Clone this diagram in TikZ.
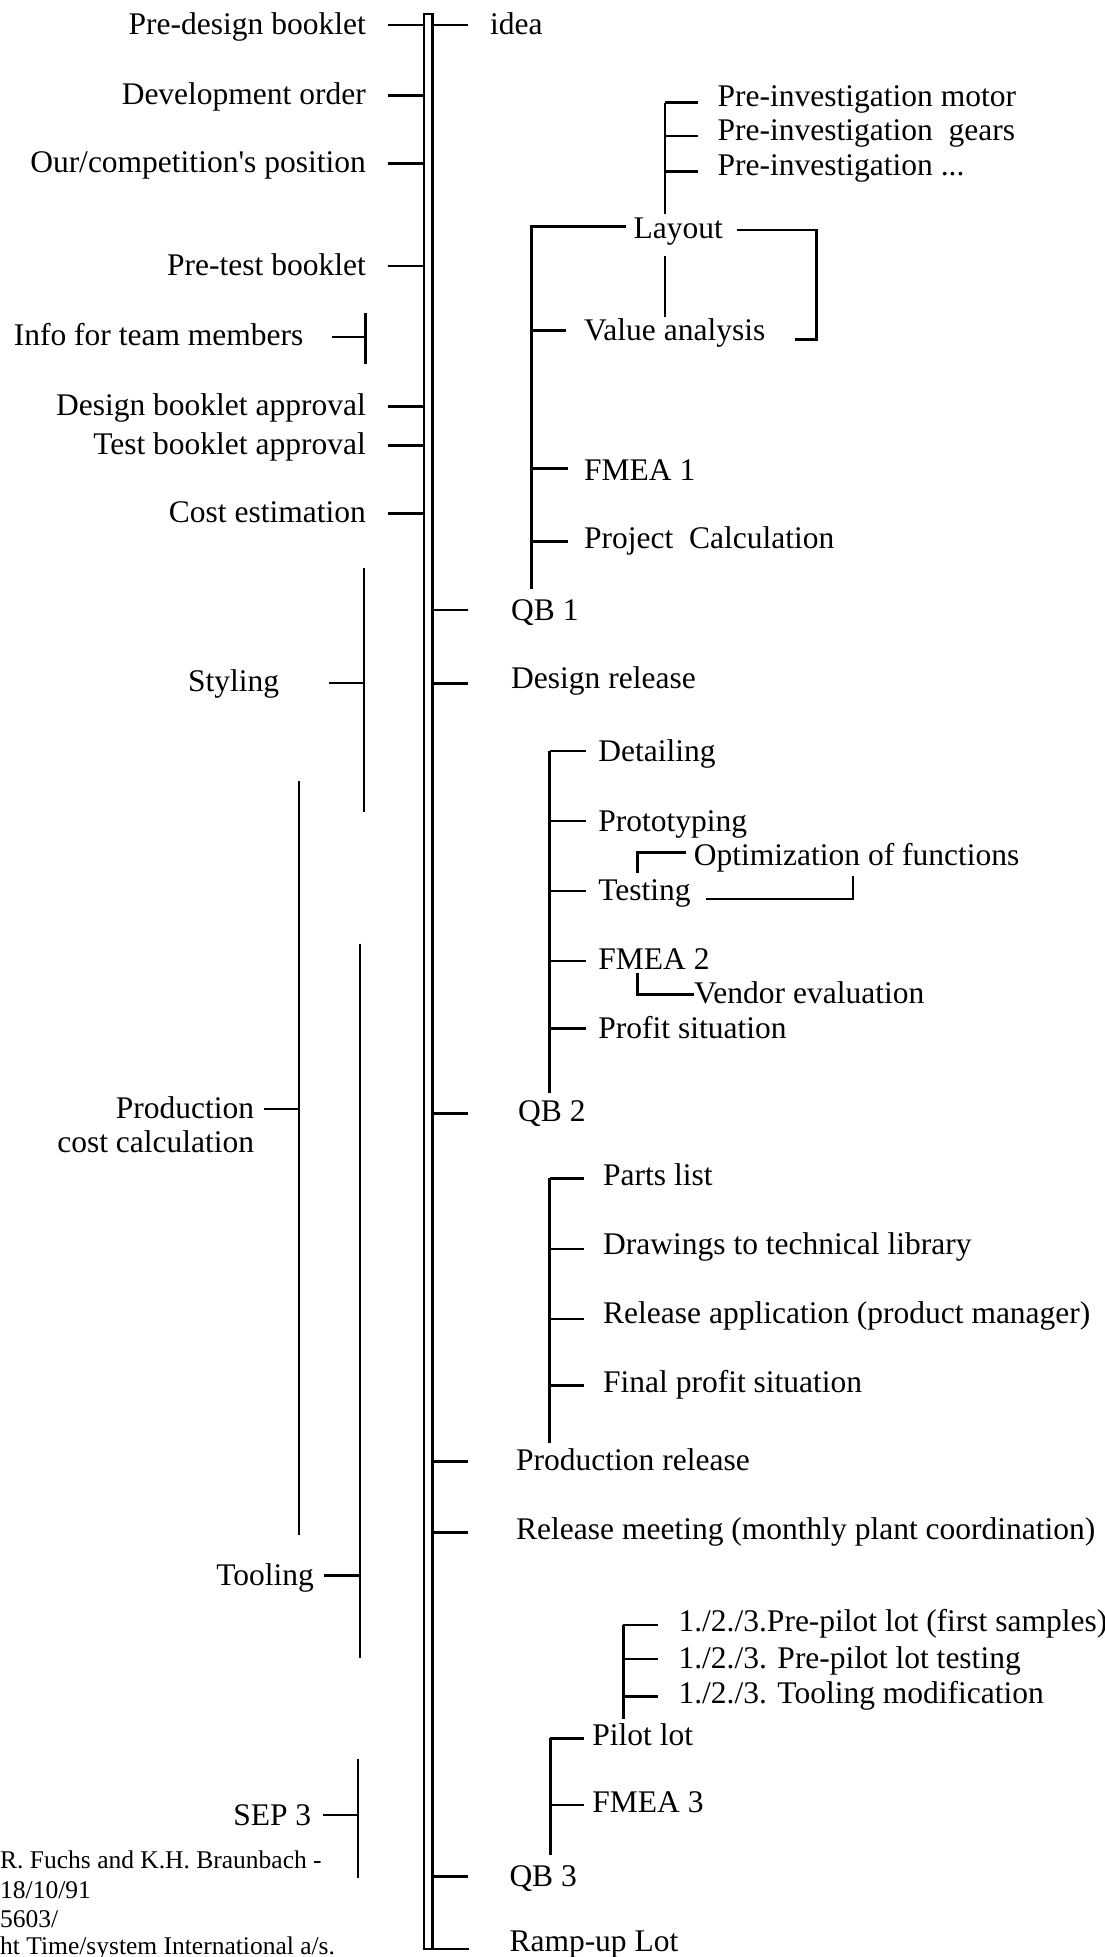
\documentclass[tikz,border=0pt]{standalone}
\usepackage{fontspec}
\setmainfont{Liberation Serif}
\newcommand\mainsize{\fontsize{31.5}{36}\selectfont}
\newcommand\notesize{\fontsize{25.5}{29}\selectfont}
\begin{document}
\begin{tikzpicture}[x=1pt,y=-1pt,line join=miter,
  txt/.style={font=\mainsize,inner sep=0pt,anchor=base west},
  txtr/.style={font=\mainsize,inner sep=0pt,anchor=base east},
  note/.style={font=\notesize,inner sep=0pt,anchor=base west},
  conn/.style={line width=2.6pt},
  longbar/.style={line width=2.2pt},
  spine/.style={line width=2.6pt}]
\useasboundingbox (0,0) rectangle (1104,1957);
\clip (0,0) rectangle (1104,1957);

% ---------- main time axis (double line) ----------
\coordinate (axL) at (424,0);
\coordinate (axR) at (432.5,0);
\draw[spine] (469.3,1949) -- (424,1949) -- (424,14) -- (432.5,14) -- (432.5,1949);

% ---------- documents on the left of the axis ----------
\node[txtr] (pdb)    at (366,34)    {Pre-design booklet};
\node[txtr] (dorder) at (366,104)   {Development order};
\node[txtr] (ourpos) at (366,172)   {Our/competition\textquotesingle s position};
\node[txtr] (ptb)    at (366,275)   {Pre-test booklet};
\node[txtr] (info)   at (303.6,345.5) {Info for team members};
\node[txtr] (dba)    at (366,415.4) {Design booklet approval};
\node[txtr] (tba)    at (366,454.4) {Test booklet approval};
\node[txtr] (cost)   at (366,522.2) {Cost estimation};

\foreach \y in {25,95.4,163.6,266,406.4,445.4,513.2}
  \draw[conn] (387.5,\y) -- (axL |- 0,\y);
\coordinate (infoT) at (332,336.8);
\draw[conn] (infoT) -- (365.4,336.8);
\draw[conn] (365.4,312.5) -- (365.4,364.3);

% ---------- left brackets: styling, costing, tooling, SEP ----------
\node[txtr] (styl) at (279.3,691) {Styling};
\draw[longbar] (363.6,567.9) -- (363.6,812);
\draw[conn] (329.3,682.9) -- (363.6,682.9);

\node[txtr] (prod1) at (254.3,1118)   {Production};
\node[txtr] (prod2) at (254.3,1152.3) {cost calculation};
\draw[longbar] (299.3,781) -- (299.3,1535);
\draw[conn] (263.6,1109) -- (299.3,1109);

\node[txtr] (tool) at (314,1585) {Tooling};
\draw[longbar] (360,943.6) -- (360,1657.7);
\draw[conn] (324,1575.7) -- (360,1575.7);

\node[txtr] (sep) at (311.4,1825) {SEP 3};
\draw[longbar] (358,1759) -- (358,1877.7);
\draw[conn] (323,1815) -- (358,1815);

% ---------- milestones on the right of the axis ----------
\node[txt] (idea)  at (490,34)     {idea};
\node[txt] (qb1)   at (511,620)    {QB 1};
\node[txt] (drel)  at (511,688)    {Design release};
\node[txt] (qb2)   at (518,1121)   {QB 2};
\node[txt] (prel)  at (516,1470)   {Production release};
\node[txt] (rmeet) at (516,1539.3) {Release meeting (monthly plant coordination)};
\node[txt] (qb3)   at (509.3,1886) {QB 3};
\node[txt] (ramp)  at (509.3,1951) {Ramp-up Lot};

\foreach \y in {25,610,683.3,1113.3,1461.7,1532.3,1876.7}
  \draw[conn] (axR |- 0,\y) -- (468.3,\y);

% ---------- phase 1: layout ----------
\node[txt] (pim) at (717.5,106.7) {Pre-investigation motor};
\node[txt] (pig) at (717.5,140)   {Pre-investigation~ gears};
\node[txt] (pid) at (717.5,175)   {Pre-investigation ...};
\draw[conn] (665,102.7) -- (665,214);
\foreach \y in {102.7,136,171.7}
  \draw[conn] (665,\y) -- (697.7,\y);

\node[txt] (layout) at (633.5,238.3) {Layout};
\draw[conn] (625.9,226.7) -- (531.6,226.7) -- (531.6,589.3);
\draw[conn] (736.8,230) -- (816.7,230) -- (816.7,339.3) -- (795.2,339.3);
\draw[conn] (665,256) -- (665,316.7);

\node[txt] (va)    at (584,340)   {Value analysis};
\node[txt] (fmea1) at (584,480.7) {FMEA 1};
\node[txt] (pcalc) at (584,548.3) {Project~ Calculation};
\draw[conn] (531.6,330.7) -- (566,330.7);
\draw[conn] (531.6,468.3) -- (568,468.3);
\draw[conn] (531.6,541.7) -- (568,541.7);

% ---------- phase 2: detailing ----------
\draw[conn] (549.6,751) -- (549.6,1092.7);
\foreach \y in {751,821,891,961,1028.3}
  \draw[conn] (549.6,\y) -- (585.5,\y);
\node[txt] (det)   at (598.2,761)    {Detailing};
\node[txt] (proto) at (598.2,831)    {Prototyping};
\node[txt] (test)  at (598.2,900)    {Testing};
\node[txt] (fmea2) at (598.2,969.3)  {FMEA 2};
\node[txt] (profit) at (598.2,1038.3) {Profit situation};

\node[txt] (opt) at (693.7,865) {Optimization of functions};
\draw[conn] (637.2,873.3) -- (637.2,852.7) -- (686.1,852.7);
\draw[conn] (705.6,899) -- (852.9,899) -- (852.9,876);

\node[txt] (vend) at (694,1003.3) {Vendor evaluation};
\draw[conn] (637.2,973.3) -- (637.2,994.3) -- (693.7,994.3);

% ---------- phase 3: release documents ----------
\draw[conn] (549.5,1178.3) -- (549.5,1443.3);
\foreach \y in {1178.3,1249,1319,1385.7}
  \draw[conn] (549.5,\y) -- (584,\y);
\node[txt] (parts) at (603,1185)   {Parts list};
\node[txt] (draw)  at (603,1254)   {Drawings to technical library};
\node[txt] (rapp)  at (603,1323.3) {Release application (product manager)};
\node[txt] (fprof) at (603,1392.7) {Final profit situation};

% ---------- phase 4: pilot lots ----------
\draw[conn] (623.2,1625) -- (623.2,1719.3);
\foreach \y in {1625,1659,1696.7}
  \draw[conn] (623.2,\y) -- (658.2,\y);
\node[txt] (pp1) at (678.4,1631.7) {1./2./3.Pre-pilot lot (first samples)};
\node[txt] (pp2) at (678.4,1668.3) {1./2./3. Pre-pilot lot testing};
\node[txt] (pp3) at (678.4,1703.3) {1./2./3. Tooling modification};

\draw[conn] (550.4,1738.3) -- (550.4,1855);
\draw[conn] (550.4,1738.3) -- (584,1738.3);
\draw[conn] (550.4,1805) -- (584,1805);
\node[txt] (pilot) at (592.2,1745)   {Pilot lot};
\node[txt] (fmea3) at (592.2,1812.3) {FMEA 3};

% ---------- source note ----------
\node[note] (n1) at (0,1868.3) {R. Fuchs and K.H. Braunbach -};
\node[note] (n2) at (0,1898.3) {18/10/91};
\node[note] (n3) at (0,1927.3) {5603/};
\node[note] (n4) at (0,1954)   {ht Time/system International a/s.};
\end{tikzpicture}
\end{document}
